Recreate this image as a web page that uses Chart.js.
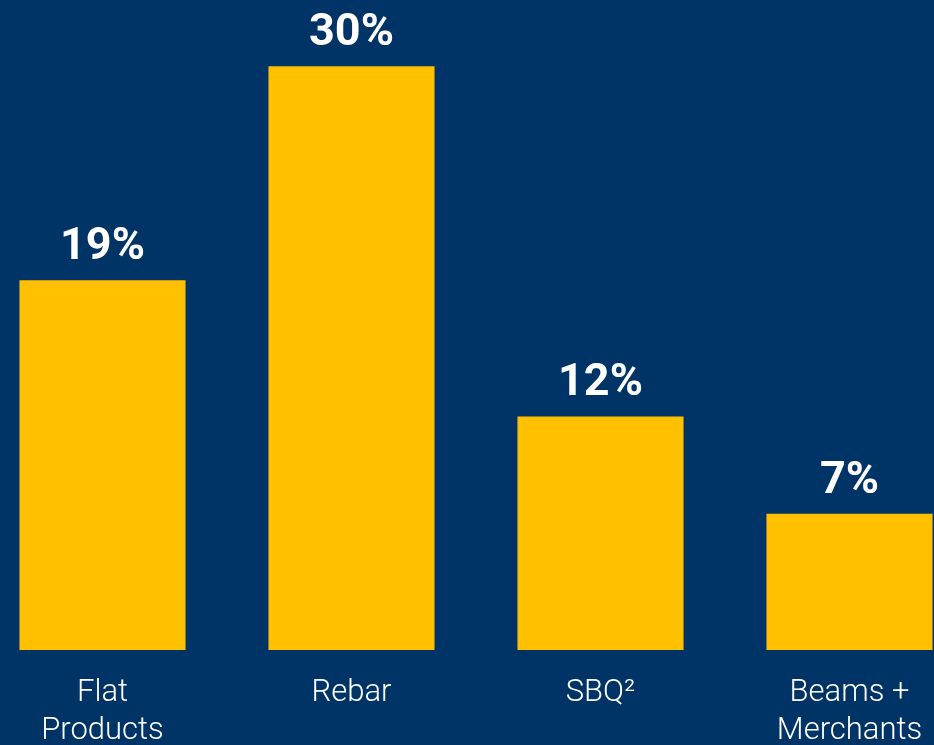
<!DOCTYPE html>
<html>
<head>
<meta charset="utf-8">
<script src="https://cdn.jsdelivr.net/npm/chart.js@4/dist/chart.umd.min.js"></script>
<style>
  html, body { margin: 0; padding: 0; width: 934px; height: 745px; overflow: hidden; background: #003466; }
  #wrap { position: absolute; left: -22px; top: 0; width: 996px; height: 770px; }
</style>
</head>
<body>
<div id="wrap"><canvas id="chart" width="996" height="770"></canvas></div>
<script>
// Share of shipments by product group
const categories = [["Flat", "Products"], "Rebar", "SBQ²", ["Beams +", "Merchants"]];
const shares = [19, 30, 12, 7];
const valueSuffix = "%";

// Writes each bar's value just above it
const valueLabels = {
  id: "valueLabels",
  afterDatasetsDraw(chart) {
    const ctx = chart.ctx;
    const meta = chart.getDatasetMeta(0);
    const data = chart.data.datasets[0].data;
    ctx.save();
    ctx.fillStyle = "#ffffff";
    ctx.font = "700 45px Roboto, 'Open Sans', sans-serif";
    ctx.textAlign = "center";
    ctx.textBaseline = "alphabetic";
    meta.data.forEach((bar, i) => {
      ctx.fillText(data[i] + valueSuffix, bar.x, bar.y - 21);
    });
    ctx.restore();
  }
};

new Chart(document.getElementById("chart"), {
  type: "bar",
  data: {
    labels: categories,
    datasets: [{
      data: shares,
      backgroundColor: "#FFC000",
      borderWidth: 0,
      categoryPercentage: 1,
      barPercentage: 0.667
    }]
  },
  options: {
    responsive: false,
    animation: false,
    layout: { padding: 0 },
    plugins: { legend: { display: false }, tooltip: { enabled: false } },
    scales: {
      x: {
        grid: { display: false, drawTicks: false },
        border: { display: false },
        ticks: {
          color: "#ffffff",
          padding: 25,
          maxRotation: 0,
          autoSkip: false,
          font: { family: "Roboto, 'Open Sans', sans-serif", size: 31, weight: 300, lineHeight: 1.2 }
        },
        afterFit(scale) { scale.height = 120; }
      },
      y: {
        display: false,
        min: 0,
        max: 33.4
      }
    }
  },
  plugins: [valueLabels]
});
</script>
</body>
</html>
